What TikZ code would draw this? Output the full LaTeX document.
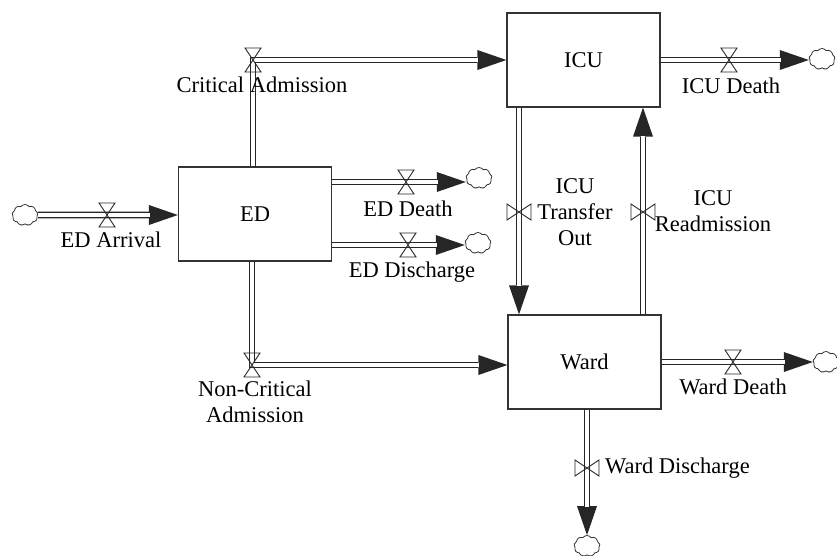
\documentclass[tikz,border=0pt]{standalone}
\usepackage{fontspec}
\setmainfont{Liberation Serif}
\usetikzlibrary{arrows.meta,shapes.symbols}

\tikzset{
  hvalve/.pic={\draw[line width=0.9pt, draw=black!85] (-8,-12) -- (8,-12) -- (-8,12) -- (8,12) -- cycle;},
  vvalve/.pic={\draw[line width=0.9pt, draw=black!85] (-12,-8) -- (-12,8) -- (12,-8) -- (12,8) -- cycle;}
}

\begin{document}
\begin{tikzpicture}[x=1pt, y=-1pt, every node/.style={font=\fontsize{22.5}{26}\selectfont}]
\tikzstyle{stock} = [rectangle, minimum width=153pt, minimum height=94pt,
draw=black!80, line width=1.2pt, fill=white]
\tikzstyle{sink} = [cloud, cloud puffs=9, cloud puff arc=110, aspect=1.3, minimum width=26pt,
minimum height=21pt, inner sep=0pt, draw=black!80, line width=0.8pt]
\tikzstyle{pipe} = [line width=6.6pt, draw=black!85, -{Triangle[length=29pt,width=20pt,line width=0pt]},
postaction={draw=white, line width=3.6pt, shorten >=28pt, -}]
\tikzstyle{flowname} = [align=center, inner sep=0pt]

\useasboundingbox (0,0) rectangle (837,555);

% Stocks
\node (ed) [stock] at (255,214) {ED};
\node (icu) [stock] at (583.5,60) {ICU};
\node (ward) [stock] at (584.5,362) {Ward};

% Clouds
\node (arrsrc) [sink] at (25,215) {};
\node (eddsink) [sink] at (479,178) {};
\node (edxsink) [sink] at (478,243) {};
\node (icudsink) [sink] at (822,59) {};
\node (warddsink) [sink] at (826,362) {};
\node (wardxsink) [sink] at (587,546) {};

% Valves
\coordinate (arrv) at (107,215);
\coordinate (critv) at (253,60);
\coordinate (eddv) at (406,182);
\coordinate (edxv) at (408,245);
\coordinate (noncritv) at (252,365);
\coordinate (outv) at (519,212);
\coordinate (readv) at (643,212);
\coordinate (icudv) at (729,60);
\coordinate (warddv) at (733,362);
\coordinate (wardxv) at (587,468);

% Flows
\draw [pipe] (arrsrc.east) -- (arrv) -- (ed.west |- arrv);
\draw [pipe] (ed.north -| critv) -- (critv) -- (icu.west |- critv);
\draw [pipe] (ed.east |- eddv) -- (eddv) -- (eddsink.west |- eddv);
\draw [pipe] (ed.east |- edxv) -- (edxv) -- (edxsink.west |- edxv);
\draw [pipe] (ed.south -| noncritv) -- (noncritv) -- (ward.west |- noncritv);
\draw [pipe] (icu.south -| outv) -- (outv) -- (ward.north -| outv);
\draw [pipe] (ward.north -| readv) -- (readv) -- (icu.south -| readv);
\draw [pipe] (icu.east |- icudv) -- (icudv) -- (icudsink.west |- icudv);
\draw [pipe] (ward.east |- warddv) -- (warddv) -- (warddsink.west |- warddv);
\draw [pipe] (ward.south -| wardxv) -- (wardxv) -- (wardxsink.north);

\pic at (arrv) {hvalve};
\pic at (critv) {hvalve};
\pic at (eddv) {hvalve};
\pic at (edxv) {hvalve};
\pic at (noncritv) {hvalve};
\pic at (outv) {vvalve};
\pic at (readv) {vvalve};
\pic at (icudv) {hvalve};
\pic at (warddv) {hvalve};
\pic at (wardxv) {vvalve};

% Labels
\node (arrlbl) [flowname] at (111,240) {ED Arrival};
\node (critlbl) [flowname] at (262,85) {Critical Admission};
\node (eddlbl) [flowname] at (408,209) {ED Death};
\node (edxlbl) [flowname] at (412,272) {ED Discharge};
\node (noncritlbl) [flowname] at (255,402) {Non-Critical\\Admission};
\node (outlbl) [flowname] at (575,212) {ICU\\Transfer\\Out};
\node (readlbl) [flowname] at (713,211) {ICU\\Readmission};
\node (icudlbl) [flowname] at (731,86) {ICU Death};
\node (warddlbl) [flowname] at (733,387) {Ward Death};
\node (wardxlbl) [flowname, anchor=west] at (605,468) {Ward Discharge};
\end{tikzpicture}
\end{document}
